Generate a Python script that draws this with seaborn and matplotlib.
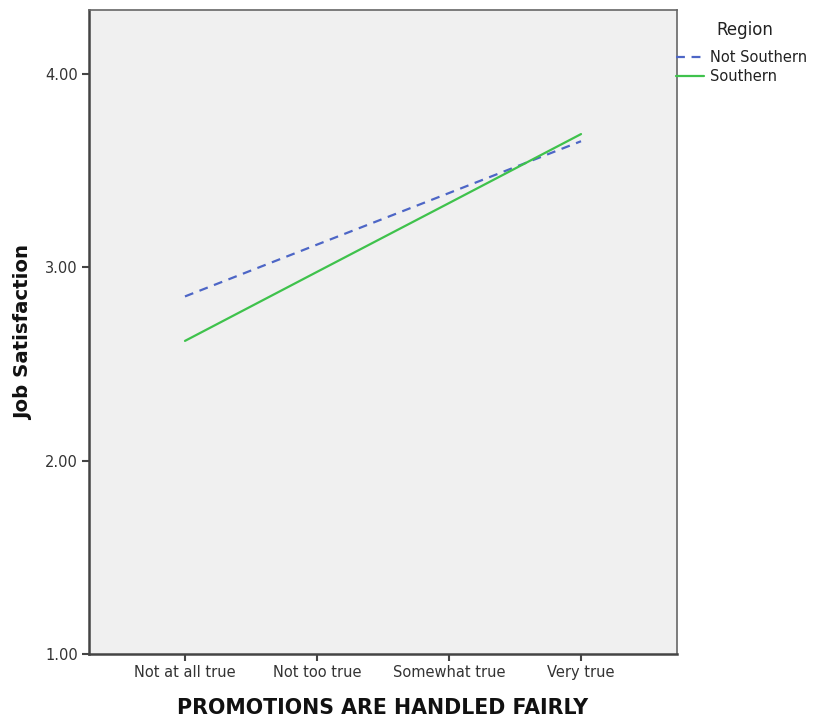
import matplotlib
matplotlib.use("Agg")
import matplotlib.pyplot as plt
import seaborn as sns
import pandas as pd

categories = ["Not at all true", "Not too true", "Somewhat true", "Very true"]
not_southern = [2.85, 3.118, 3.385, 3.653]
southern = [2.62, 2.977, 3.333, 3.69]
y_ticks = [1.0, 2.0, 3.0, 4.0]

df = pd.DataFrame({
    "promo": categories * 2,
    "js": not_southern + southern,
    "Region": ["Not Southern"] * 4 + ["Southern"] * 4,
})

sns.set_style("white")
plt.rcParams["font.family"] = ["DejaVu Sans"]

fig = plt.figure(figsize=(8.17, 7.21), dpi=100)
ax = fig.add_axes([89 / 817, 1 - 654 / 721, (677 - 89) / 817, (654 - 10) / 721])
ax.set_facecolor("#f0f0f0")

palette = {"Not Southern": "#4d66c6", "Southern": "#3fc24c"}
sns.lineplot(data=df, x="promo", y="js", hue="Region", style="Region",
             palette=palette, dashes={"Not Southern": (4, 3), "Southern": ""},
             linewidth=1.6, ax=ax, sort=False)

ax.set_xlim(-0.727, 3.727)
ax.set_ylim(1.0, 4.332)
ax.set_yticks(y_ticks)
ax.set_yticklabels([f"{v:.2f}" for v in y_ticks])
ax.set_xticks(range(len(categories)))
ax.set_xticklabels(categories)
ax.tick_params(axis="both", which="both", direction="out", length=5, width=1.5,
               color="#444444", labelsize=10.5, labelcolor="#333333", pad=3,
               bottom=True, left=True)

for side in ["left", "bottom"]:
    ax.spines[side].set_color("#444444")
    ax.spines[side].set_linewidth(1.8)
for side in ["top", "right"]:
    ax.spines[side].set_color("#666666")
    ax.spines[side].set_linewidth(1.2)

ax.set_xlabel("PROMOTIONS ARE HANDLED FAIRLY", fontsize=14.8, fontweight="bold",
              color="#111111", labelpad=13)
ax.set_ylabel("Job Satisfaction", fontsize=14.2, fontweight="bold",
              color="#111111")
ax.yaxis.set_label_coords((33 - 89) / 588, 0.5)

ax.get_legend().remove()
handles, labels = ax.get_legend_handles_labels()
leg = fig.legend(handles, labels, loc="upper left",
                 bbox_to_anchor=(676 / 817, 1 - 50 / 721),
                 frameon=False, fontsize=10.5,
                 handlelength=1.9, handletextpad=0.4, borderaxespad=0.0,
                 borderpad=0.0, labelspacing=0.3)
for t in leg.get_texts():
    t.set_color("#222222")
fig.text(716 / 817, 1 - 30 / 721, "Region", fontsize=12, color="#222222",
         ha="left", va="center")

fig.savefig("out.png", dpi=100)
